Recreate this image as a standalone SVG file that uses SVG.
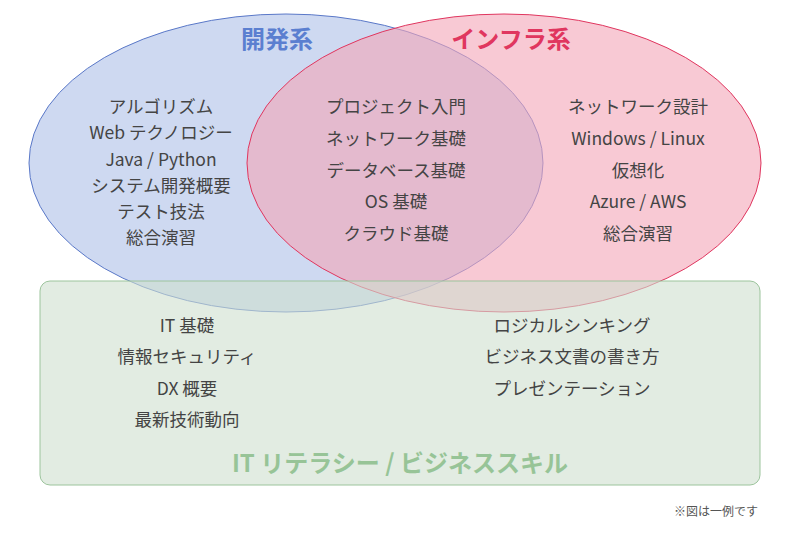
<svg xmlns="http://www.w3.org/2000/svg" width="800" height="543" viewBox="0 0 800 543">
<style>
text{font-family:"Noto Sans CJK JP","Noto Sans",sans-serif;text-anchor:middle}
.t{font-size:17.5px;fill:#444}
.h{font-size:24px;font-weight:bold}
</style>
<rect width="800" height="543" fill="#fff"/>
<g id="dev"><ellipse cx="286" cy="163" rx="257" ry="149" fill="#b4c4ea" fill-opacity="0.65" stroke="#5a78c8" stroke-width="1"/></g>
<g id="infra"><ellipse cx="504" cy="163" rx="257" ry="149" fill="#f4a5b8" fill-opacity="0.6" stroke="#e0365f" stroke-width="1"/></g>
<g id="literacy"><rect x="40" y="281" width="720" height="204" rx="10" fill="#cfe0cf" fill-opacity="0.6" stroke="#9cc49c" stroke-width="1"/></g>
<g id="labels">
<text class="h" x="277" y="48" fill="#5b7fd0">開発系</text>
<text class="h" x="511" y="48" fill="#e0365f">インフラ系</text>
<text x="400" y="472" font-size="24" font-weight="bold" fill="#97c497">IT リテラシー / ビジネススキル</text>
</g>
<g id="devtexts">
<text class="t" x="161" y="113">アルゴリズム</text>
<text class="t" x="161" y="139">Web テクノロジー</text>
<text class="t" x="161" y="166">Java / Python</text>
<text class="t" x="161" y="192">システム開発概要</text>
<text class="t" x="161" y="218">テスト技法</text>
<text class="t" x="161" y="244">総合演習</text>
</g>
<g id="common">
<text class="t" x="396" y="113">プロジェクト入門</text>
<text class="t" x="396" y="145">ネットワーク基礎</text>
<text class="t" x="396" y="177">データベース基礎</text>
<text class="t" x="396" y="208">OS 基礎</text>
<text class="t" x="396" y="240">クラウド基礎</text>
</g>
<g id="infratexts">
<text class="t" x="638" y="113">ネットワーク設計</text>
<text class="t" x="638" y="145">Windows / Linux</text>
<text class="t" x="638" y="177">仮想化</text>
<text class="t" x="638" y="208">Azure / AWS</text>
<text class="t" x="638" y="240">総合演習</text>
</g>
<g id="littexts">
<text class="t" x="187" y="332">IT 基礎</text>
<text class="t" x="187" y="363">情報セキュリティ</text>
<text class="t" x="187" y="395">DX 概要</text>
<text class="t" x="187" y="426">最新技術動向</text>
<text class="t" x="572" y="332">ロジカルシンキング</text>
<text class="t" x="572" y="363">ビジネス文書の書き方</text>
<text class="t" x="572" y="395">プレゼンテーション</text>
</g>
<text x="758" y="516" font-size="12" fill="#555" style="text-anchor:end">※図は一例です</text>
<g id="connectors"/>
</svg>
